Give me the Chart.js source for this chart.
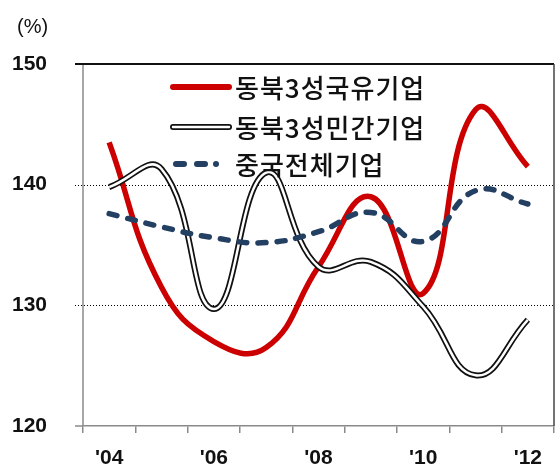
<!DOCTYPE html>
<html>
<head>
<meta charset="utf-8">
<script src="https://cdn.jsdelivr.net/npm/chart.js@4"></script>
<style>
  html, body { margin: 0; padding: 0; background: #fff; }
  canvas { display: block; }
</style>
</head>
<body>
<canvas id="myChart" width="556" height="468"></canvas>
<script>
// 연도 (2004~2012)
const years = ["'04", "'05", "'06", "'07", "'08", "'09", "'10", "'11", "'12"];
// 동북3성 국유기업
const stateOwned = [143.5, 131.5, 127.0, 126.5, 133.2, 139.0, 131.0, 146.2, 141.5];
// 동북3성 민간기업
const privateFirms = [139.8, 141.3, 129.7, 141.0, 133.2, 133.6, 129.9, 124.2, 128.8];
// 중국 전체기업
const chinaAll = [137.6, 136.5, 135.6, 135.2, 136.1, 137.7, 135.3, 139.5, 138.4];
const yTicks = [120, 130, 140, 150];
const seriesNames = ['동북3성국유기업', '동북3성민간기업', '중국전체기업'];

const RED = '#cc0000';
const NAVY = '#233f62';
const AXIS_GRAY = '#8a8a8a';

Chart.defaults.font.family = "'Liberation Sans', Arial, sans-serif";

// 축, 보조선, 테두리
const framePlugin = {
    id: 'frame',
    beforeDatasetsDraw(chart) {
        const { ctx, chartArea } = chart;
        const y = chart.scales.y;
        const tickStart = chartArea.left - 8;
        ctx.save();
        // 점선 보조선
        ctx.strokeStyle = '#000';
        ctx.lineWidth = 1;
        ctx.setLineDash([1, 2]);
        yTicks.filter(v => v !== yTicks[0] && v !== yTicks[yTicks.length - 1]).forEach(v => {
            const py = Math.round(y.getPixelForValue(v)) + 0.5;
            ctx.beginPath();
            ctx.moveTo(tickStart, py);
            ctx.lineTo(chartArea.right, py);
            ctx.stroke();
        });
        ctx.setLineDash([]);
        // 세로축
        ctx.strokeStyle = AXIS_GRAY;
        ctx.lineWidth = 1.5;
        ctx.beginPath();
        ctx.moveTo(chartArea.left, chartArea.top);
        ctx.lineTo(chartArea.left, chartArea.bottom);
        ctx.moveTo(tickStart, chartArea.bottom);
        ctx.lineTo(chartArea.left, chartArea.bottom);
        ctx.stroke();
        // 위, 오른쪽 테두리
        ctx.strokeStyle = '#111';
        ctx.lineWidth = 2;
        ctx.beginPath();
        ctx.moveTo(tickStart, chartArea.top);
        ctx.lineTo(chartArea.right, chartArea.top);
        ctx.stroke();
        ctx.strokeStyle = '#444';
        ctx.lineWidth = 1.5;
        ctx.beginPath();
        ctx.moveTo(chartArea.right, chartArea.top);
        ctx.lineTo(chartArea.right, chartArea.bottom);
        ctx.stroke();
        // 단위
        ctx.fillStyle = '#111';
        ctx.font = "20px 'Liberation Sans', Arial, sans-serif";
        ctx.textAlign = 'left';
        ctx.textBaseline = 'middle';
        ctx.fillText('(%)', 17, 27);
        ctx.restore();
    }
};

// 범례 (차트 영역 안쪽)
const legendPlugin = {
    id: 'innerLegend',
    afterDatasetsDraw(chart) {
        const { ctx } = chart;
        const x0 = 173, x1 = 229, textX = 235;
        const rows = [87, 127, 164];
        ctx.save();
        ctx.lineCap = 'round';
        // 국유기업
        ctx.strokeStyle = RED;
        ctx.lineWidth = 6;
        ctx.beginPath(); ctx.moveTo(x0, rows[0]); ctx.lineTo(x1, rows[0]); ctx.stroke();
        // 민간기업 (이중선)
        ctx.strokeStyle = '#111';
        ctx.lineWidth = 6;
        ctx.beginPath(); ctx.moveTo(x0, rows[1]); ctx.lineTo(x1, rows[1]); ctx.stroke();
        ctx.strokeStyle = '#fff';
        ctx.lineWidth = 2.5;
        ctx.beginPath(); ctx.moveTo(x0, rows[1]); ctx.lineTo(x1, rows[1]); ctx.stroke();
        // 전체기업 (파선)
        ctx.strokeStyle = NAVY;
        ctx.lineWidth = 6;
        ctx.setLineDash([8, 13]);
        ctx.beginPath(); ctx.moveTo(x0 + 3, rows[2]); ctx.lineTo(x1 - 13, rows[2]); ctx.stroke();
        ctx.setLineDash([]);
        ctx.beginPath(); ctx.moveTo(x1 - 13, rows[2]); ctx.lineTo(x1 - 13, rows[2]); ctx.stroke();

        ctx.fillStyle = '#111';
        ctx.font = "500 26px 'Noto Sans CJK KR', sans-serif";
        ctx.letterSpacing = '1px';
        ctx.textAlign = 'left';
        ctx.textBaseline = 'middle';
        seriesNames.forEach((name, i) => ctx.fillText(name, textX, rows[i] + 1));
        ctx.restore();
    }
};

const ctx = document.getElementById('myChart').getContext('2d');
const myChart = new Chart(ctx, {
    type: 'line',
    data: {
        labels: years,
        datasets: [
            {
                label: seriesNames[0],
                data: stateOwned,
                borderColor: RED,
                borderWidth: 5.5,
                tension: 0.45,
                pointRadius: 0,
                order: 3
            },
            {
                label: seriesNames[1],
                data: privateFirms,
                borderColor: '#111',
                borderWidth: 6,
                tension: 0.45,
                pointRadius: 0,
                order: 2
            },
            {
                // 민간기업 선 안쪽 흰 줄
                label: '',
                data: privateFirms,
                borderColor: '#fff',
                borderWidth: 2.5,
                tension: 0.45,
                pointRadius: 0,
                order: 1
            },
            {
                label: seriesNames[2],
                data: chinaAll,
                borderColor: NAVY,
                borderWidth: 5.5,
                borderDash: [8, 11],
                borderCapStyle: 'round',
                tension: 0.45,
                pointRadius: 0,
                order: 0
            }
        ]
    },
    options: {
        responsive: false,
        animation: false,
        devicePixelRatio: 1,
        layout: { padding: { top: 64, right: 2, left: 0, bottom: 0 } },
        plugins: {
            legend: { display: false },
            tooltip: { enabled: false }
        },
        scales: {
            x: {
                offset: true,
                grid: {
                    offset: true,
                    drawOnChartArea: false,
                    drawTicks: true,
                    tickLength: 7,
                    color: AXIS_GRAY,
                    lineWidth: 1.5
                },
                border: { color: AXIS_GRAY, width: 1.5 },
                ticks: {
                    autoSkip: false,
                    maxRotation: 0,
                    padding: 13,
                    color: '#111',
                    font: { size: 21, weight: 'bold' },
                    callback: (v, i) => (i % 2 === 0 ? years[i] : '')
                },
                afterFit: s => { s.height = 42; }
            },
            y: {
                min: yTicks[0],
                max: yTicks[yTicks.length - 1],
                grid: { display: false },
                border: { display: false },
                afterBuildTicks: s => { s.ticks = yTicks.map(v => ({ value: v })); },
                ticks: {
                    padding: 28,
                    color: '#111',
                    font: { size: 21, weight: 'bold' }
                },
                afterFit: s => { s.width = 83; }
            }
        }
    },
    plugins: [framePlugin, legendPlugin]
});
</script>
</body>
</html>
